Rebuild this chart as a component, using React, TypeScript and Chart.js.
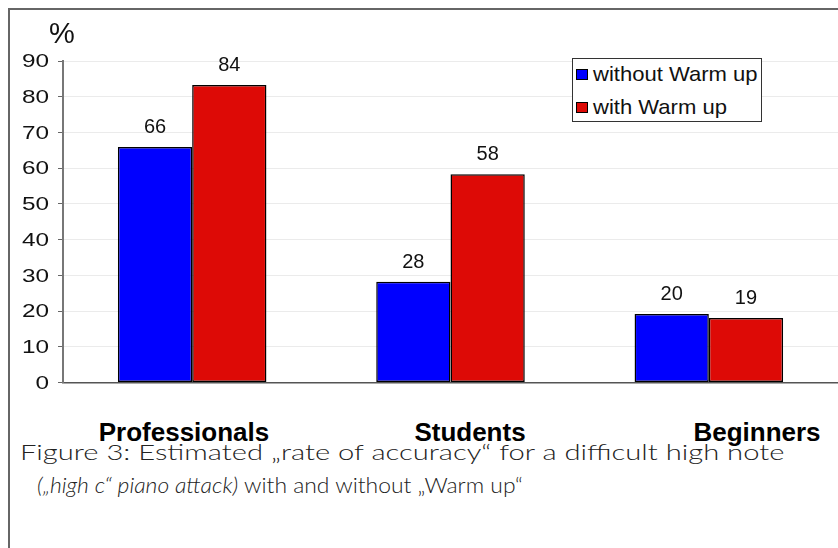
import React, { useEffect, useRef } from "react";
import { Chart, registerables } from "chart.js";

Chart.register(...registerables);

const categories = ["Professionals", "Students", "Beginners"];
const seriesNames = ["without Warm up", "with Warm up"];
const withoutWarmUp = [65.9, 28.2, 19.2];
const withWarmUp = [83.3, 58.3, 18.1];
const withoutWarmUpLabels = ["66", "28", "20"];
const withWarmUpLabels = ["84", "58", "19"];
const seriesColors = ["#0000FF", "#DD0A06"];
const yMin = 0;
const yMax = 90;
const yStep = 10;
const yUnit = "%";
const captionLine1 = "Figure 3: Estimated \u201Erate of accuracy\u201C for a difficult high note";
const captionLine2Italic = "(\u201Ehigh c\u201C piano attack)";
const captionLine2Rest = "  with and without \u201EWarm up\u201C";

const FONT = "'Liberation Sans', Arial, sans-serif";

const valueLabelPlugin = {
  id: "valueLabels",
  afterDatasetsDraw(chart: any) {
    const ctx = chart.ctx;
    const labelSets = [withoutWarmUpLabels, withWarmUpLabels];
    ctx.save();
    ctx.font = `20px ${FONT}`;
    ctx.fillStyle = "#111";
    ctx.textAlign = "center";
    ctx.textBaseline = "alphabetic";
    chart.data.datasets.forEach((_: any, i: number) => {
      const meta = chart.getDatasetMeta(i);
      meta.data.forEach((bar: any, j: number) => {
        ctx.fillText(labelSets[i][j], bar.x, bar.y - 14);
      });
    });
    ctx.restore();
  },
};

// y tick labels drawn slightly widened, as in the reference
const yLabelPlugin = {
  id: "yLabels",
  afterDraw(chart: any) {
    const scale = chart.scales.y;
    const ctx = chart.ctx;
    ctx.save();
    ctx.font = `19px ${FONT}`;
    ctx.fillStyle = "#111";
    ctx.textAlign = "right";
    ctx.textBaseline = "middle";
    scale.ticks.forEach((t: any) => {
      const y = scale.getPixelForValue(t.value);
      ctx.save();
      ctx.translate(scale.right - 14, y + 1);
      ctx.scale(1.28, 1);
      ctx.fillText(String(t.value), 0, 0);
      ctx.restore();
    });
    ctx.restore();
  },
};

export default function App() {
  const canvasRef = useRef<HTMLCanvasElement | null>(null);

  useEffect(() => {
    document.body.style.overflow = "hidden";
    const canvas = canvasRef.current;
    if (!canvas) return;
    const chart = new Chart(canvas, {
      type: "bar",
      data: {
        labels: categories,
        datasets: [
          {
            label: seriesNames[0],
            data: withoutWarmUp,
            backgroundColor: seriesColors[0],
            borderColor: "#000",
            borderWidth: 1.5,
            borderSkipped: false,
            categoryPercentage: 0.575,
            barPercentage: 1,
          },
          {
            label: seriesNames[1],
            data: withWarmUp,
            backgroundColor: seriesColors[1],
            borderColor: "#000",
            borderWidth: 1.5,
            borderSkipped: false,
            categoryPercentage: 0.575,
            barPercentage: 1,
          },
        ],
      },
      options: {
        animation: false,
        responsive: false,
        maintainAspectRatio: false,
        layout: { padding: { top: 51, right: 0, bottom: 15, left: 0 } },
        plugins: {
          legend: { display: false },
          tooltip: { enabled: false },
          title: { display: false },
        },
        scales: {
          x: {
            ticks: { display: false },
            grid: { display: false, drawTicks: false },
            border: { display: true, color: "#555", width: 1.5 },
            afterFit: (s: any) => {
              s.height = 0;
            },
          },
          y: {
            min: yMin,
            max: yMax,
            ticks: {
              stepSize: yStep,
              color: "rgba(0,0,0,0)",
              font: { family: FONT, size: 19 },
              padding: 7,
            },
            grid: {
              color: "#ebebeb",
              lineWidth: 1,
              tickLength: 5,
              tickColor: "#666",
            },
            border: { display: true, color: "#777", width: 2 },
            afterFit: (s: any) => {
              s.width = 53;
            },
          },
        },
      },
      plugins: [valueLabelPlugin, yLabelPlugin],
    });
    return () => chart.destroy();
  }, []);

  const catCenters = [174, 460, 747];

  return (
    <div
      style={{
        position: "fixed",
        left: 8,
        top: 8,
        width: 860,
        height: 560,
        borderLeft: "2px solid #666",
        borderTop: "2px solid #666",
        background: "#fff",
        overflow: "hidden",
      }}
    >
      <canvas
        ref={canvasRef}
        width={828}
        height={391}
        style={{ position: "absolute", left: 0, top: 0, width: 828, height: 391 }}
      />
      <div
        style={{
          position: "absolute",
          left: 39,
          top: 9,
          fontFamily: FONT,
          fontSize: 29,
          lineHeight: 1,
          color: "#111",
        }}
      >
        {yUnit}
      </div>
      <div
        style={{
          position: "absolute",
          left: 562,
          top: 48,
          width: 188,
          height: 62,
          border: "1px solid #333",
          background: "#fff",
          fontFamily: FONT,
          fontSize: 21,
          color: "#111",
        }}
      >
        {seriesNames.map((n, i) => (
          <div
            key={n}
            style={{
              position: "absolute",
              left: 3,
              top: i === 0 ? 3 : 36,
              height: 24,
              display: "flex",
              alignItems: "center",
              whiteSpace: "nowrap",
              lineHeight: "24px",
            }}
          >
            <span
              style={{
                display: "inline-block",
                width: 10,
                height: 9,
                background: seriesColors[i],
                border: "1px solid #000",
                marginRight: 5,
              }}
            />
            <span style={{ display: "inline-block", transform: "scaleX(1.05)", transformOrigin: "left center" }}>{n}</span>
          </div>
        ))}
      </div>
      {categories.map((c, i) => (
        <div
          key={c}
          style={{
            position: "absolute",
            left: catCenters[i],
            top: 409,
            transform: "translateX(-50%)",
            fontFamily: FONT,
            fontWeight: "bold",
            fontSize: 26,
            lineHeight: 1,
            color: "#000",
            whiteSpace: "nowrap",
          }}
        >
          {c}
        </div>
      ))}
      <div
        style={{
          position: "absolute",
          left: 10,
          top: 425,
          fontFamily: "Lato, sans-serif",
          fontWeight: 300,
          fontSize: 22,
          lineHeight: "33px",
          color: "#222",
          whiteSpace: "nowrap",
        }}
      >
        <div style={{ transform: "scaleX(1.326)", transformOrigin: "left center" }}>{captionLine1}</div>
        <div style={{ paddingLeft: 17, transform: "scaleX(1.04)", transformOrigin: "17px center" }}>
          <span style={{ fontStyle: "italic" }}>{captionLine2Italic}</span>
          {captionLine2Rest}
        </div>
      </div>
    </div>
  );
}
